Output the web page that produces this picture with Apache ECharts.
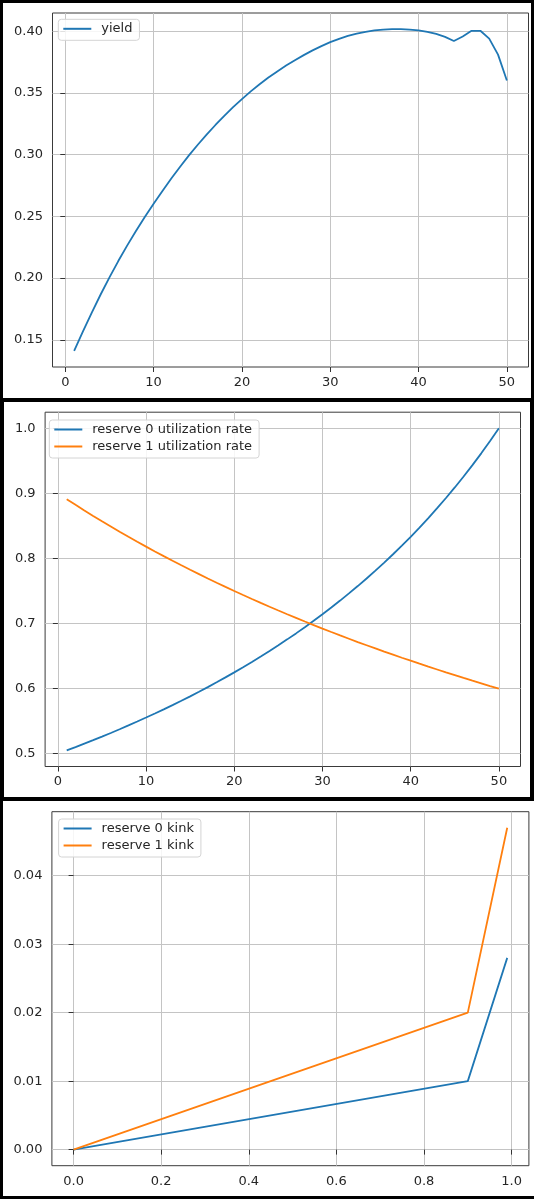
<!DOCTYPE html>
<html>
<head>
<meta charset="utf-8">
<script src="https://cdn.jsdelivr.net/npm/echarts@6.0.0/dist/echarts.min.js"></script>
<style>
  html, body { margin: 0; padding: 0; background: #000; }
  body { width: 534px; height: 1199px; position: relative; overflow: hidden; }
  .panel { position: absolute; background: #fff; }
</style>
</head>
<body>
<div id="p1" class="panel" style="left:3px;top:3px;width:528px;height:395px"></div>
<div id="p2" class="panel" style="left:4px;top:402px;width:526px;height:395px"></div>
<div id="p3" class="panel" style="left:3px;top:801px;width:531px;height:395px"></div>
<script>
// x values (step) for the top two panels
const steps = [1, 2, 3, 4, 5, 6, 7, 8, 9, 10, 11, 12, 13, 14, 15, 16, 17, 18, 19, 20,
  21, 22, 23, 24, 25, 26, 27, 28, 29, 30, 31, 32, 33, 34, 35, 36, 37, 38, 39, 40,
  41, 42, 43, 44, 45, 46, 47, 48, 49, 50];

const yieldVals = [0.141, 0.1568, 0.1721, 0.1867, 0.2006, 0.2138, 0.2263, 0.2381, 0.2494, 0.2602,
  0.2706, 0.2806, 0.2902, 0.2994, 0.3080, 0.3162, 0.3240, 0.3314, 0.3384, 0.3450,
  0.3512, 0.3570, 0.3624, 0.3674, 0.3721, 0.3765, 0.3806, 0.3844, 0.3879, 0.3911,
  0.3938, 0.3961, 0.3980, 0.3995, 0.4006, 0.4013, 0.4017, 0.4016, 0.4013, 0.4006,
  0.3995, 0.3978, 0.3954, 0.3920, 0.3957, 0.4003, 0.4003, 0.3940, 0.3810, 0.3600];

const util0 = [0.5051, 0.5102, 0.5155, 0.5208, 0.5263, 0.5319, 0.5376, 0.5435, 0.5495, 0.5556,
  0.5618, 0.5682, 0.5747, 0.5814, 0.5882, 0.5952, 0.6024, 0.6098, 0.6173, 0.6250,
  0.6329, 0.6410, 0.6494, 0.6579, 0.6667, 0.6757, 0.6849, 0.6944, 0.7042, 0.7143,
  0.7246, 0.7353, 0.7463, 0.7576, 0.7692, 0.7813, 0.7937, 0.8065, 0.8197, 0.8333,
  0.8475, 0.8621, 0.8772, 0.8929, 0.9091, 0.9259, 0.9434, 0.9615, 0.9804, 1.0];

const util1 = [0.8911, 0.8824, 0.8738, 0.8654, 0.8571, 0.8491, 0.8411, 0.8333, 0.8257, 0.8182,
  0.8108, 0.8036, 0.7965, 0.7895, 0.7826, 0.7759, 0.7692, 0.7627, 0.7563, 0.7500,
  0.7438, 0.7377, 0.7317, 0.7258, 0.7200, 0.7143, 0.7087, 0.7031, 0.6977, 0.6923,
  0.6870, 0.6818, 0.6767, 0.6716, 0.6667, 0.6618, 0.6569, 0.6522, 0.6475, 0.6429,
  0.6383, 0.6338, 0.6294, 0.6250, 0.6207, 0.6164, 0.6122, 0.6081, 0.6040, 0.6000];

// kink curves: utilization -> rate
const kinkU = [0, 0.9, 0.99];
const kink0 = [0, 0.01, 0.028];
const kink1 = [0, 0.02, 0.047];

// tick labels
const stepTicks = [0, 10, 20, 30, 40, 50];
const yieldTicks = [0.15, 0.20, 0.25, 0.30, 0.35, 0.40];
const utilTicks = [0.5, 0.6, 0.7, 0.8, 0.9, 1.0];
const kinkTicks = [0, 0.2, 0.4, 0.6, 0.8, 1.0];
const rateTicks = [0, 0.01, 0.02, 0.03, 0.04];

const BLUE = '#1f77b4';
const ORANGE = '#ff7f0e';
const FONT = 'DejaVu Sans';

function pairs(xs, ys) {
  return xs.map((x, i) => [x, ys[i]]);
}

function axis(min, max, ticks, digits, isY) {
  return {
    type: 'value',
    min: min,
    max: max,
    axisLine: { show: false },
    axisTick: { show: true, length: 5, customValues: ticks, lineStyle: { color: '#333', width: 1 } },
    axisLabel: {
      customValues: ticks,
      formatter: v => v.toFixed(digits),
      color: '#262626',
      fontFamily: FONT,
      fontSize: 13,
      margin: isY ? 9.5 : 9
    },
    splitLine: { show: true, lineStyle: { color: '#c4c4c4', width: 1 } }
  };
}

function makeChart(id, grid, legendPos, xAxis, yAxis, series) {
  const chart = echarts.init(document.getElementById(id), null, { renderer: 'canvas' });
  chart.setOption({
    animation: false,
    grid: Object.assign({ show: true, borderColor: '#3a3a3a', borderWidth: 1, backgroundColor: 'transparent', outerBoundsMode: 'none' }, grid),
    legend: Object.assign({
      orient: 'vertical',
      icon: 'rect',
      itemWidth: 28,
      itemHeight: 2,
      itemGap: 4,
      padding: [3, 7, 5, 5],
      backgroundColor: 'rgba(255,255,255,0.85)',
      borderColor: '#d4d4d4',
      borderWidth: 1,
      borderRadius: 3,
      selectedMode: false,
      textStyle: { fontFamily: FONT, fontSize: 13, color: '#262626', padding: [0, 0, 0, 5] }
    }, legendPos),
    xAxis: xAxis,
    yAxis: yAxis,
    series: series.map(s => ({
      type: 'line',
      name: s.name,
      data: s.data,
      showSymbol: false,
      color: s.color,
      lineStyle: { color: s.color, width: 1.8 },
      z: 3
    }))
  });
  return chart;
}

makeChart('p1',
  { left: 49.5, top: 10, width: 476, height: 354 },
  { left: 55.3, top: 16.3 },
  axis(-1.45, 52.45, stepTicks, 0, false),
  axis(0.128, 0.4147, yieldTicks, 2, true),
  [{ name: 'yield', data: pairs(steps, yieldVals), color: BLUE }]
);

makeChart('p2',
  { left: 41.1, top: 10.2, width: 475.4, height: 354.3 },
  { left: 45.3, top: 18 },
  axis(-1.45, 52.45, stepTicks, 0, false),
  axis(0.4804, 1.0247, utilTicks, 1, true),
  [
    { name: 'reserve 0 utilization rate', data: pairs(steps, util0), color: BLUE },
    { name: 'reserve 1 utilization rate', data: pairs(steps, util1), color: ORANGE }
  ]
);

makeChart('p3',
  { left: 48.9, top: 10.7, width: 477, height: 354 },
  { left: 55.6, top: 18 },
  axis(-0.0495, 1.0395, kinkTicks, 1, false),
  axis(-0.00235, 0.04935, rateTicks, 2, true),
  [
    { name: 'reserve 0 kink', data: pairs(kinkU, kink0), color: BLUE },
    { name: 'reserve 1 kink', data: pairs(kinkU, kink1), color: ORANGE }
  ]
);
</script>
</body>
</html>
